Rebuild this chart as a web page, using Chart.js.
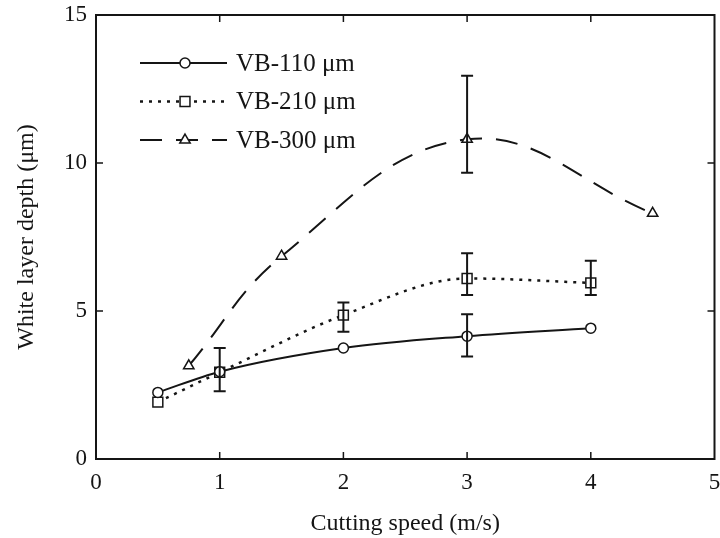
<!DOCTYPE html>
<html>
<head>
<meta charset="utf-8">
<script src="https://cdn.jsdelivr.net/npm/chart.js@4.4.1/dist/chart.umd.min.js"></script>
<style>
  html, body { margin: 0; padding: 0; background: #fff; overflow: hidden; }
  canvas { display: block; }
</style>
</head>
<body>
<canvas id="wlChart" width="723" height="538"></canvas>
<script>
// values
const speedsA = [0.5, 1, 2, 3, 4];
const vb110 = [2.25, 2.95, 3.75, 4.15, 4.42];
const vb210 = [1.92, 2.93, 4.86, 6.1, 5.95];
const speedsB = [0.75, 1.5, 3, 4.5];
const vb300 = [3.15, 6.85, 10.8, 8.3];

// error bar ends (null = no bar)
const vb110Low = [null, null, null, 3.46, null];
const vb110High = [null, null, null, 4.89, null];
const vb210Low = [null, 2.29, 4.30, 5.54, 5.54];
const vb210High = [null, 3.75, 5.29, 6.95, 6.70];
const vb300Low = [null, null, 9.67, null];
const vb300High = [null, null, 12.95, null];

const seriesNames = ['VB-110 \u03bcm', 'VB-210 \u03bcm', 'VB-300 \u03bcm'];
const xTicks = [0, 1, 2, 3, 4, 5];
const yTicks = [0, 5, 10, 15];

const ink = '#151515';
const serif = '"Liberation Serif", "DejaVu Serif", serif';

function pts(xs, ys) {
  return xs.map((x, i) => ({ x: x, y: ys[i] }));
}

const errBars = [
  { xs: speedsA, lo: vb110Low, hi: vb110High },
  { xs: speedsA, lo: vb210Low, hi: vb210High },
  { xs: speedsB, lo: vb300Low, hi: vb300High }
];

// frame, inward ticks, error bars and legend
const extras = {
  id: 'extras',
  afterDatasetsDraw(chart) {
    const ctx = chart.ctx;
    const a = chart.chartArea;
    const xs = chart.scales.x, ys = chart.scales.y;
    ctx.save();
    ctx.strokeStyle = ink;
    ctx.setLineDash([]);

    // error bars
    ctx.lineWidth = 2;
    errBars.forEach(e => {
      e.xs.forEach((x, i) => {
        if (e.lo[i] == null) return;
        const px = xs.getPixelForValue(x);
        const p1 = ys.getPixelForValue(e.lo[i]);
        const p2 = ys.getPixelForValue(e.hi[i]);
        ctx.beginPath();
        ctx.moveTo(px, p1); ctx.lineTo(px, p2);
        ctx.moveTo(px - 6, p1); ctx.lineTo(px + 6, p1);
        ctx.moveTo(px - 6, p2); ctx.lineTo(px + 6, p2);
        ctx.stroke();
      });
    });

    // box
    ctx.lineWidth = 2;
    ctx.strokeRect(a.left, a.top, a.right - a.left, a.bottom - a.top);

    // ticks pointing inwards
    ctx.lineWidth = 1.5;
    ctx.beginPath();
    xs.ticks.forEach(t => {
      if (t.value <= xs.min || t.value >= xs.max) return;
      const px = xs.getPixelForValue(t.value);
      ctx.moveTo(px, a.bottom); ctx.lineTo(px, a.bottom - 7);
      ctx.moveTo(px, a.top); ctx.lineTo(px, a.top + 7);
    });
    ys.ticks.forEach(t => {
      if (t.value <= ys.min || t.value >= ys.max) return;
      const py = ys.getPixelForValue(t.value);
      ctx.moveTo(a.left, py); ctx.lineTo(a.left + 7, py);
      ctx.moveTo(a.right, py); ctx.lineTo(a.right - 7, py);
    });
    ctx.stroke();

    // legend inside the plot
    chart.data.datasets.forEach((ds, i) => {
      const y = 63 + i * 38.5;
      ctx.lineWidth = ds.borderWidth;
      ctx.setLineDash(ds.borderDash || []);
      ctx.beginPath();
      ctx.moveTo(140, y); ctx.lineTo(227, y);
      ctx.stroke();
      ctx.setLineDash([]);
      ctx.fillStyle = '#fff';
      ctx.lineWidth = ds.pointBorderWidth;
      Chart.helpers.drawPoint(ctx, {
        pointStyle: ds.pointStyle, radius: ds.pointRadius,
        borderWidth: ds.pointBorderWidth, rotation: 0
      }, 185, y);
      ctx.fillStyle = ink;
      ctx.font = '25px ' + serif;
      ctx.textBaseline = 'middle';
      ctx.textAlign = 'left';
      ctx.fillText(seriesNames[i], 236, y + 1);
    });
    ctx.restore();
  }
};

const lineBase = {
  borderColor: ink,
  pointBorderColor: ink,
  pointBackgroundColor: '#fff',
  pointBorderWidth: 1.5,
  fill: false,
  cubicInterpolationMode: 'monotone'
};

new Chart(document.getElementById('wlChart'), {
  type: 'line',
  data: {
    datasets: [
      Object.assign({}, lineBase, {
        label: seriesNames[0], data: pts(speedsA, vb110),
        borderWidth: 2, pointStyle: 'circle', pointRadius: 5
      }),
      Object.assign({}, lineBase, {
        label: seriesNames[1], data: pts(speedsA, vb210),
        borderWidth: 2.5, borderDash: [3, 6], pointStyle: 'rect', pointRadius: 7
      }),
      Object.assign({}, lineBase, {
        label: seriesNames[2], data: pts(speedsB, vb300),
        borderWidth: 2, borderDash: [22, 14], pointStyle: 'triangle', pointRadius: 6,
        cubicInterpolationMode: 'default', tension: 0.4
      })
    ]
  },
  options: {
    responsive: false,
    animation: false,
    layout: { padding: { top: 15, right: 0, left: 0, bottom: 0 } },
    plugins: { legend: { display: false }, tooltip: { enabled: false } },
    scales: {
      x: {
        type: 'linear', min: 0, max: 5,
        afterFit: s => { s.height = 79; s.paddingLeft = 0; s.paddingRight = 0; },
        afterBuildTicks: s => { s.ticks = xTicks.map(v => ({ value: v })); },
        grid: { display: false, drawTicks: false },
        border: { display: false },
        ticks: { color: ink, padding: 10, font: { family: serif, size: 23 } },
        title: {
          display: true, text: 'Cutting speed (m/s)', color: ink,
          padding: { top: 3, bottom: 0 }, font: { family: serif, size: 24 }
        }
      },
      y: {
        type: 'linear', min: 0, max: 15,
        afterFit: s => { s.width = 96; s.paddingTop = 0; s.paddingBottom = 0; },
        afterBuildTicks: s => { s.ticks = yTicks.map(v => ({ value: v })); },
        grid: { display: false, drawTicks: false },
        border: { display: false },
        ticks: { color: ink, padding: 9, font: { family: serif, size: 23 } },
        title: {
          display: true, text: 'White layer depth (\u03bcm)', color: ink,
          padding: { top: 12, bottom: 0 }, font: { family: serif, size: 24 }
        }
      }
    }
  },
  plugins: [extras]
});
</script>
</body>
</html>
